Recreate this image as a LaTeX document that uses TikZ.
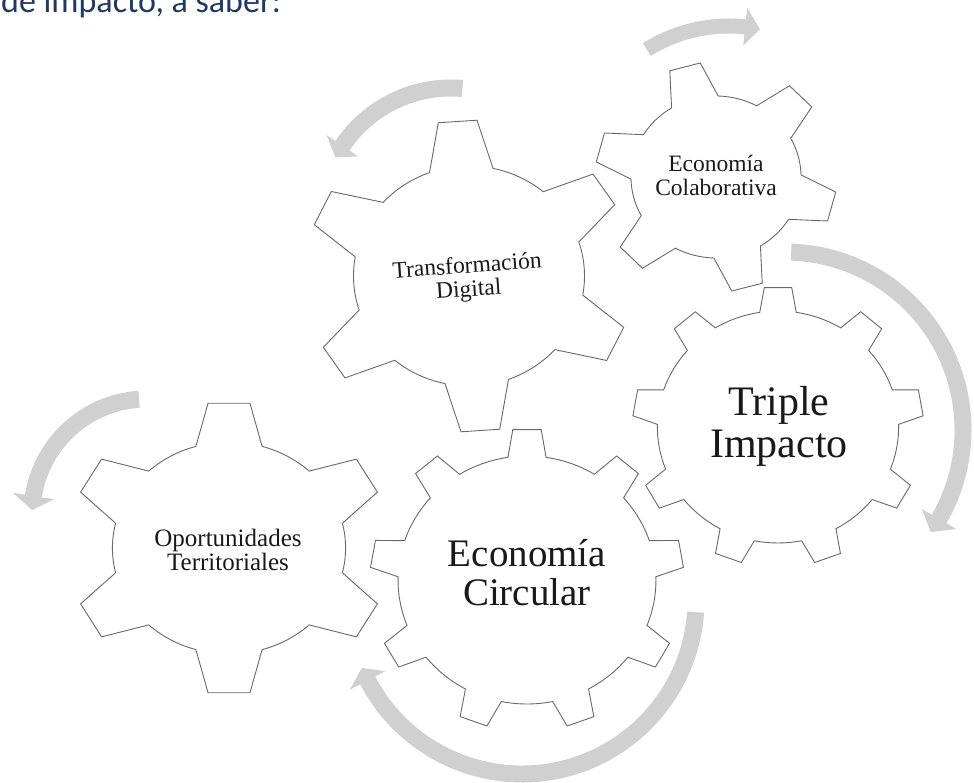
\documentclass[tikz,border=0pt]{standalone}
\usepackage{fontspec}
\setmainfont{Liberation Serif}
\newfontfamily\introfont{Carlito}
\definecolor{arrowgray}{RGB}{208,208,208}
\definecolor{gearline}{RGB}{105,105,105}
\definecolor{introblue}{RGB}{31,56,100}
\tikzset{
  gearshape/.style={fill=white, draw=gearline, line width=0.9pt, line join=miter},
  arrowshape/.style={fill=arrowgray, draw=none},
  gearlabel/.style={align=center, inner sep=0pt, text=black!90},
}
% cx, cy, xscale, n, R, r, tip half-angle, base half-angle, rotation
\newcommand{\drawgear}[9]{%
  \begin{scope}[shift={(#1,#2)}, xscale=#3]
    \pgfmathsetmacro\gstep{360/#4}
    \path[gearshape] ({#9-#8}:#6)
      \foreach \k in {1,...,#4}{
        -- ({#9+\gstep*(\k-1)-#7}:#5)
        -- ({#9+\gstep*(\k-1)+#7}:#5)
        -- ({#9+\gstep*(\k-1)+#8}:#6)
        arc[start angle={#9+\gstep*(\k-1)+#8}, end angle={#9+\gstep*\k-#8}, radius=#6]
      } -- cycle;
  \end{scope}}
% cx, cy, r, start, end, tip angle, half thickness, half head width
\newcommand{\drawarrow}[8]{%
  \begin{scope}[shift={(#1,#2)}]
    \path[arrowshape] ({#4}:{#3+#7}) arc[start angle=#4, end angle=#5, radius={#3+#7}]
      -- ({#5}:{#3+#8}) -- ({#6}:#3) -- ({#5}:{#3-#8}) -- ({#5}:{#3-#7})
      arc[start angle=#5, end angle=#4, radius={#3-#7}] -- cycle;
  \end{scope}}
\begin{document}
\begin{tikzpicture}[x=1pt, y=1pt, yscale=-1]
  \fill[white] (0,0) rectangle (974,783);
  \useasboundingbox (0,0) rectangle (974,783);
  \clip (0,0) rectangle (974,783);

  \node[anchor=base west, inner sep=0pt, font=\introfont\fontsize{34}{40}\selectfont, text=introblue] (intro) at (1,12.5) {de impacto, a saber:};

  % curved arrows
  \drawarrow{729}{181}{155}{-122}{-84}{-78.5}{7.5}{19}
  \drawarrow{451}{219}{131}{-85}{-146}{-152}{8.5}{19}
  \drawarrow{147}{514}{115}{-94}{-171}{-178}{8.5}{21}
  \drawarrow{785}{430}{178}{-88}{30}{35}{8.5}{20}
  \drawarrow{522}{600}{174}{4}{152.5}{157}{8.5}{20}

  % gears
  \drawgear{229}{548}{1.1}{6}{146}{106}{7.5}{16.5}{-90}
  \drawgear{716}{177}{1.05}{6}{115}{81}{7.5}{16.5}{-105}
  \drawgear{469}{276}{1.05}{6}{156}{110}{6.8}{16}{-94}
  \drawgear{778}{427}{1.04}{9}{140}{116}{5.4}{8.7}{-90}
  \drawgear{527}{580}{1.04}{9}{151}{124}{5.2}{8.5}{-90}

  % labels
  \node[gearlabel, font=\fontsize{25}{21.5}\selectfont] (oport) at (228,550) {Oportunidades\\Territoriales};
  \node[gearlabel, font=\fontsize{23.5}{23.5}\selectfont, rotate=4] (transf) at (468,279) {Transformación\\Digital};
  \node[gearlabel, font=\fontsize{23.5}{23.5}\selectfont] (colab) at (716,175.5) {Economía\\Colaborativa};
  \node[gearlabel, font=\fontsize{42}{42}\selectfont] (triple) at (779,426) {Triple\\Impacto};
  \node[gearlabel, font=\fontsize{39}{38.5}\selectfont] (circ) at (527,572.5) {Economía\\Circular};
\end{tikzpicture}
\end{document}
